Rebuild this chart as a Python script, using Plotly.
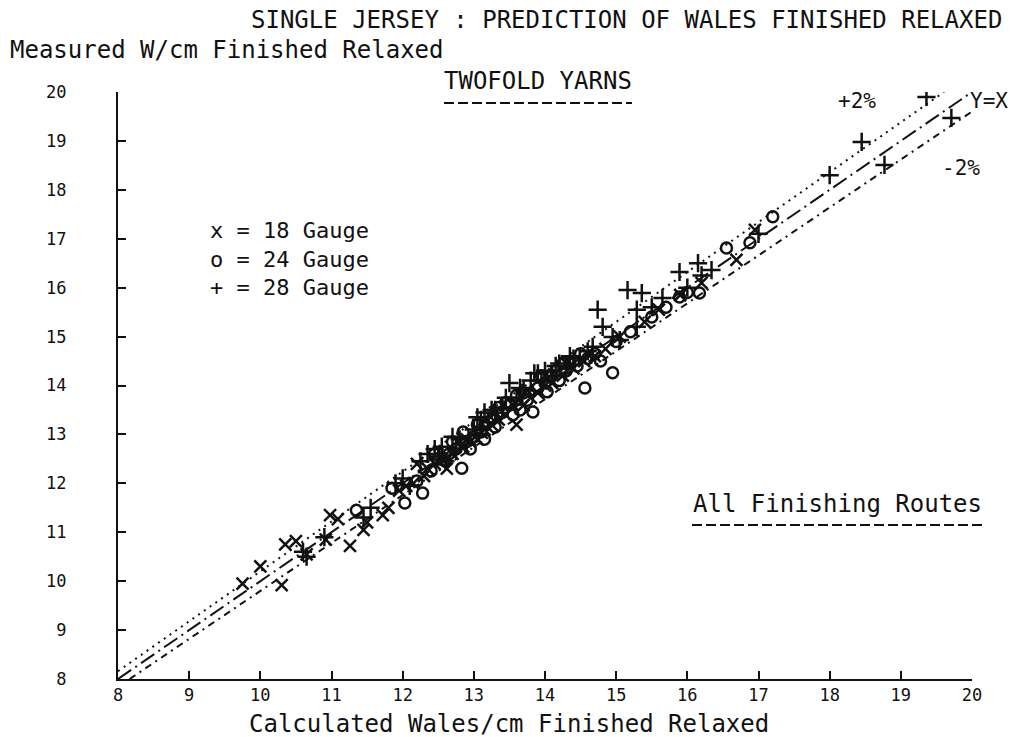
import plotly.graph_objects as go

# Gauge 18 knits (x markers): calculated vs measured wales/cm
g18_calc = [9.75, 10.0, 10.3, 10.35, 10.5, 10.65, 10.92, 10.98, 11.09, 11.26,
            11.45, 11.5, 11.72, 11.8, 11.95, 12.05, 12.15, 12.3, 12.45, 12.55,
            12.62, 12.7, 12.85, 12.95, 13.05, 13.15, 13.25, 13.35, 13.45, 13.6,
            13.7, 13.8, 13.9, 14.0, 14.1, 14.25, 14.4, 14.55, 14.7, 14.85,
            15.05, 15.4, 15.6, 15.9, 16.2, 16.69, 16.95,
            12.35, 12.6, 12.9, 13.1, 13.3, 13.55, 13.75, 14.05, 14.3, 12.2]
g18_meas = [9.95, 10.3, 9.92, 10.75, 10.82, 10.55, 10.85, 11.35, 11.27, 10.72,
            11.05, 11.2, 11.35, 11.5, 11.85, 11.95, 12.0, 12.15, 12.4, 12.5,
            12.3, 12.6, 12.75, 12.85, 12.9, 13.1, 13.2, 13.3, 13.4, 13.2,
            13.6, 13.75, 13.85, 14.0, 14.05, 14.2, 14.35, 14.5, 14.6, 14.75,
            15.0, 15.3, 15.55, 15.85, 16.1, 16.57, 17.18,
            12.3, 12.5, 12.9, 13.05, 13.45, 13.6, 13.9, 14.15, 14.45, 12.4]

# Gauge 24 knits (o markers)
g24_calc = [11.35, 11.85, 12.03, 12.28, 12.4, 12.5, 12.6, 12.75, 12.83, 12.9,
            12.95, 13.0, 13.1, 13.15, 13.25, 13.3, 13.4, 13.5, 13.55, 13.65,
            13.75, 13.83, 13.9, 14.0, 14.03, 14.1, 14.2, 14.3, 14.35, 14.45,
            14.56, 14.6, 14.7, 14.78, 14.95, 15.0, 15.2, 15.5, 15.7, 15.89,
            16.0, 16.17, 16.55, 16.88, 17.2, 12.2, 12.65, 13.2, 13.7, 14.15,
            12.45, 12.7, 13.05, 13.35, 13.6, 13.95, 14.25, 14.5, 12.85, 13.45]
g24_meas = [11.45, 11.9, 11.6, 11.8, 12.25, 12.5, 12.45, 12.7, 12.31, 12.85,
            12.7, 12.95, 13.05, 12.9, 13.3, 13.15, 13.45, 13.6, 13.4, 13.5,
            13.7, 13.46, 13.95, 14.05, 13.87, 14.2, 14.1, 14.3, 14.45, 14.4,
            13.95, 14.55, 14.65, 14.5, 14.26, 14.9, 15.1, 15.4, 15.6, 15.81,
            15.9, 15.89, 16.81, 16.92, 17.45, 12.05, 12.6, 13.25, 13.85, 14.3,
            12.6, 12.85, 13.2, 13.55, 13.8, 14.2, 14.45, 14.65, 13.05, 13.65]

# Gauge 28 knits (+ markers)
g28_calc = [10.6, 10.65, 10.9, 11.45, 11.55, 11.9, 12.0, 12.1, 12.35, 12.5,
            12.6, 12.7, 12.8, 12.9, 13.0, 13.1, 13.2, 13.3, 13.4, 13.5,
            13.6, 13.7, 13.8, 13.85, 13.95, 14.0, 14.1, 14.2, 14.3, 14.4,
            14.49, 14.6, 14.67, 14.74, 14.81, 14.95, 15.05, 15.16, 15.29, 15.29,
            15.36, 15.5, 15.65, 15.89, 16.0, 16.15, 16.34, 16.2, 17.0, 18.0,
            18.45, 18.77, 19.36, 19.71,
            12.25, 12.45, 12.75, 13.05, 13.25, 13.45, 13.65, 13.9, 14.15, 14.35,
            12.55, 13.15]
g28_meas = [10.6, 10.5, 10.9, 11.3, 11.5, 12.0, 12.1, 11.95, 12.6, 12.55,
            12.45, 12.95, 12.9, 12.8, 13.1, 13.3, 13.25, 13.5, 13.55, 14.05,
            13.75, 13.9, 14.1, 14.25, 14.1, 14.3, 14.2, 14.45, 14.35, 14.55,
            14.58, 14.7, 14.79, 15.55, 15.2, 14.99, 14.93, 15.95, 15.55, 15.2,
            15.89, 15.6, 15.79, 16.32, 16.0, 16.5, 16.36, 16.25, 17.1, 18.3,
            18.98, 18.51, 19.9, 19.47,
            12.45, 12.7, 12.7, 13.35, 13.5, 13.75, 13.95, 14.25, 14.4, 14.6,
            12.75, 13.45]

# Reference lines: measured = ratio * calculated
ref_ratios = [1.02, 1.00, 0.98]
ref_dashes = ["2px,5px", "16px,5px,2px,5px", "7px,5px,2px,5px"]

axis_min, axis_max = 8, 20
tick_vals = list(range(8, 21))
tick_text = [str(v) for v in tick_vals]

FONT = "DejaVu Sans Mono"
INK = "#111111"

fig = go.Figure()

# reference lines clipped to the square plotting range
for r, d in zip(ref_ratios, ref_dashes):
    x0 = max(axis_min, axis_min / r)
    x1 = min(axis_max, axis_max / r)
    fig.add_trace(go.Scatter(
        x=[x0, x1], y=[x0 * r, x1 * r], mode="lines",
        line=dict(color=INK, width=2, dash=d), hoverinfo="skip",
        showlegend=False))

marker_line = dict(color=INK, width=2.5)
fig.add_trace(go.Scatter(x=g18_calc, y=g18_meas, mode="markers", name="18 Gauge",
                         marker=dict(symbol="x-thin-open", size=12, color=INK,
                                     line=marker_line)))
fig.add_trace(go.Scatter(x=g24_calc, y=g24_meas, mode="markers", name="24 Gauge",
                         marker=dict(symbol="circle-open", size=11, color=INK,
                                     line=marker_line)))
fig.add_trace(go.Scatter(x=g28_calc, y=g28_meas, mode="markers", name="28 Gauge",
                         marker=dict(symbol="cross-thin-open", size=13, color=INK,
                                     line=marker_line)))

W, H = 1016, 737
L, R, T, B = 118, 44, 92, 58


def px(xp, yp):
    """Pixel position on the page -> paper coordinates."""
    return (xp - L) / (W - L - R), (H - B - yp) / (H - T - B)


def label(text, xp, yp, size=24, anchor="center"):
    x, y = px(xp, yp)
    fig.add_annotation(text=text, x=x, y=y, xref="paper", yref="paper",
                       showarrow=False, xanchor=anchor, yanchor="middle",
                       align="left", font=dict(family=FONT, size=size, color=INK))


def underline(xp0, xp1, yp):
    x0, y = px(xp0, yp)
    x1, _ = px(xp1, yp)
    fig.add_shape(type="line", xref="paper", yref="paper", x0=x0, x1=x1, y0=y, y1=y,
                  line=dict(color=INK, width=2, dash="10px,4px"))


label("SINGLE JERSEY : PREDICTION OF WALES FINISHED RELAXED", 1004, 20, anchor="right")
label("Measured W/cm Finished Relaxed", 8, 50, anchor="left")
label("Calculated Wales/cm Finished Relaxed", 509, 724)
label("TWOFOLD YARNS", 538, 81)
underline(444, 632, 103)
label("x = 18 Gauge<br>o = 24 Gauge<br>+ = 28 Gauge", 208, 259, size=22, anchor="left")
label("+2%", 857, 101, size=21)
label("Y=X", 989, 101, size=21)
label("-2%", 961, 168, size=21)
label("All Finishing Routes", 837, 504)
underline(692, 983, 525)

axis_common = dict(range=[axis_min, axis_max], tickvals=tick_vals, ticktext=tick_text,
                   showgrid=False, zeroline=False, showline=True, linecolor=INK,
                   linewidth=2, ticks="inside", ticklen=8, tickwidth=2, tickcolor=INK,
                   tickfont=dict(family=FONT, size=17, color=INK), fixedrange=True)

fig.update_xaxes(**axis_common, ticklabelstandoff=0)
fig.update_yaxes(**axis_common, ticklabelstandoff=46)

fig.update_layout(
    width=W, height=H,
    margin=dict(l=L, r=R, t=T, b=B),
    paper_bgcolor="white", plot_bgcolor="white",
    showlegend=False,
)

fig.write_html("out.html")
